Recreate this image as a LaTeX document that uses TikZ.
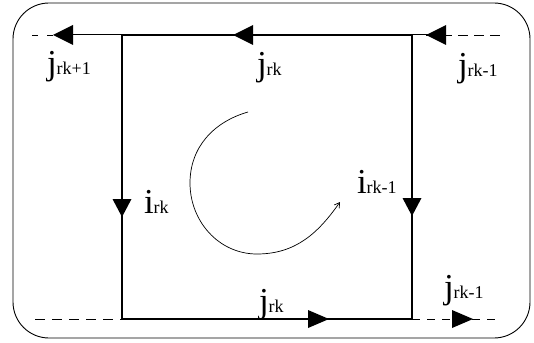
\documentclass[tikz,border=0pt]{standalone}
\usepackage{fontspec}
\setmainfont{Liberation Serif}
\usetikzlibrary{arrows.meta}
\newcommand{\mainlet}[1]{{\fontsize{35}{35}\selectfont #1}}
\newcommand{\subtxt}[1]{{\fontsize{18}{18}\selectfont #1}}
\tikzset{
  sq/.style={line width=2.8pt, line join=miter},
  thinl/.style={line width=1pt},
  dl/.style={line width=0.9pt, dash pattern=on 9pt off 7pt},
  lbl/.style={anchor=base west, inner sep=0pt, outer sep=0pt},
  tipfill/.style={fill=black}
}
\newcommand{\tipLeft}[1]{\fill[tipfill] (#1) -- ++(20pt,10pt) -- ++(0,-20pt) -- cycle;}
\newcommand{\tipRight}[1]{\fill[tipfill] (#1) -- ++(-21pt,9pt) -- ++(0,-18pt) -- cycle;}
\newcommand{\tipDown}[1]{\fill[tipfill] (#1) -- ++(-9.5pt,18pt) -- ++(19pt,0) -- cycle;}
\begin{document}
\begin{tikzpicture}[x=1pt,y=1pt]
\useasboundingbox (0,0) rectangle (534,-342);
% outer frame
\draw[line width=0.9pt, rounded corners=36pt] (13,-3) rectangle (530,-338);
% square corners
\coordinate (A) at (122,-35);
\coordinate (B) at (412,-35);
\coordinate (C) at (412,-319);
\coordinate (D) at (122,-319);
% extension coordinates
\coordinate (TLs) at (72,-35);
\coordinate (TLe) at (32,-35);
\coordinate (TLt) at (53,-35);
\coordinate (TRs) at (430,-35);
\coordinate (TRt) at (426,-35);
\coordinate (TRe) at (505,-35);
\coordinate (BLe) at (35,-319);
\coordinate (BRe) at (498,-319);
% lines
\draw[sq] (A) -- (B) -- (C) -- (D) -- cycle;
\draw[thinl] (A) -- (TLs);
\draw[dl, dash pattern=on 6pt off 9pt] (TLe) -- (TLt);
\draw[thinl] (B) -- (TRs);
\draw[dl, dash pattern=on 10pt off 6pt] (TRt) -- (TRe);
\draw[dl, dash pattern=on 10pt off 7pt] (BLe) -- (D);
\draw[dl, dash pattern=on 8pt off 7pt] (C) -- (BRe);
% arrowheads
\coordinate (a1) at (53,-35);
\coordinate (a2) at (233,-35);
\coordinate (a3) at (426,-35);
\coordinate (a4) at (122,-217);
\coordinate (a5) at (412,-216);
\coordinate (a6) at (329,-319);
\coordinate (a7) at (473,-319);
\tipLeft{a1}
\tipLeft{a2}
\tipLeft{a3}
\tipDown{a4}
\tipDown{a5}
\tipRight{a6}
\tipRight{a7}
% circulation arrow
\coordinate (c1) at (248,-112);
\coordinate (c2) at (190,-183);
\coordinate (c3) at (257,-254);
\coordinate (c4) at (340,-202);
\draw[line width=0.7pt, -{Straight Barb[length=5pt,width=6pt]}]
  (c1) to[out=196,in=90] (c2) to[out=-90,in=180] (c3) to[out=0,in=235] (c4);
% labels
\node[lbl] (l1) at (47,-75) {\mainlet{j}\subtxt{rk+1}};
\node[lbl] (l2) at (257,-76) {\mainlet{j}\subtxt{rk}};
\node[lbl] (l3) at (458,-77) {\mainlet{j}\subtxt{rk-1}};
\node[lbl] (l4) at (144,-213) {\mainlet{i}\subtxt{rk}};
\node[lbl] (l5) at (357,-193) {\mainlet{i}\subtxt{rk-1}};
\node[lbl] (l6) at (259,-312) {\mainlet{j}\subtxt{rk}};
\node[lbl] (l7) at (444,-298) {\mainlet{j}\subtxt{rk-1}};
\end{tikzpicture}
\end{document}
